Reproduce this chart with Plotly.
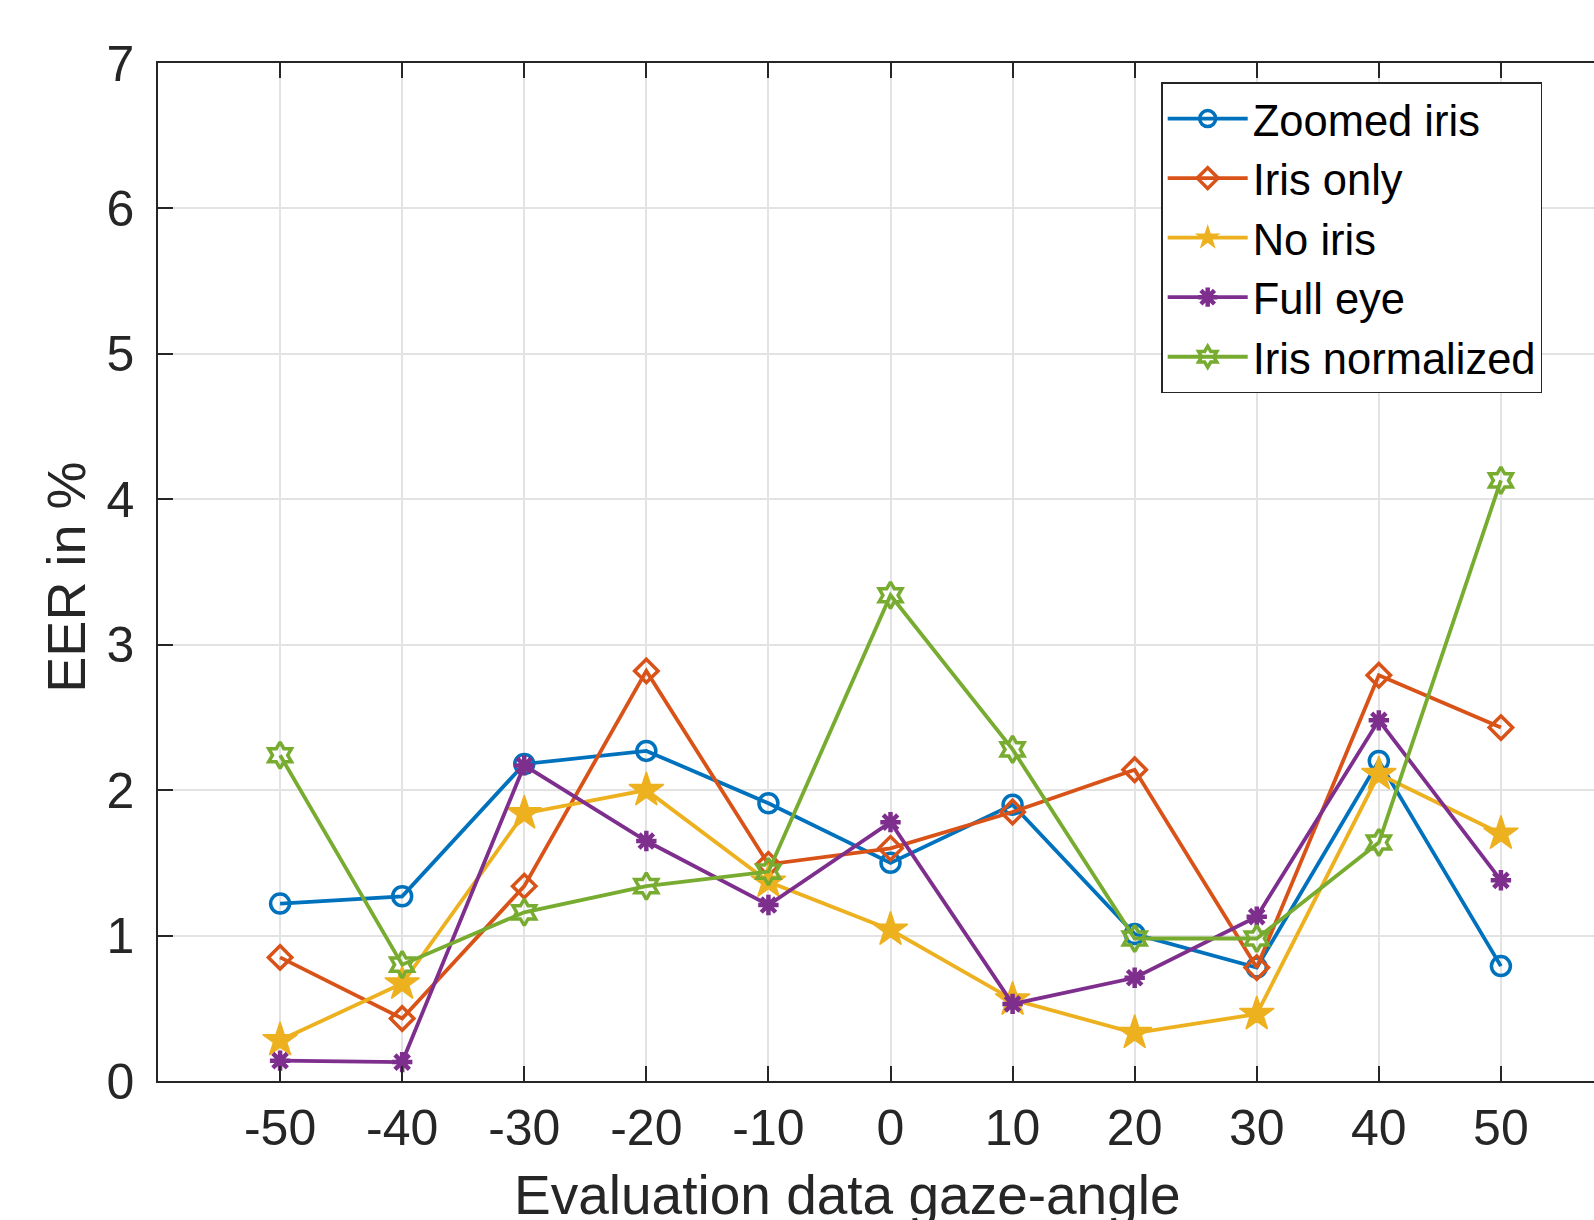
import plotly.graph_objects as go

angles = [-50, -40, -30, -20, -10, 0, 10, 20, 30, 40, 50]
tick_labels = ["-50", "-40", "-30", "-20", "-10", "0", "10", "20", "30", "40", "50"]
y_ticks = [0, 1, 2, 3, 4, 5, 6, 7]

zoomed_iris = [1.22, 1.27, 2.18, 2.27, 1.91, 1.50, 1.90, 1.01, 0.78, 2.20, 0.79]
iris_only = [0.85, 0.43, 1.34, 2.82, 1.49, 1.60, 1.85, 2.14, 0.78, 2.79, 2.43]
no_iris = [0.28, 0.67, 1.84, 2.00, 1.37, 1.04, 0.56, 0.33, 0.46, 2.11, 1.70]
full_eye = [0.14, 0.13, 2.17, 1.65, 1.21, 1.78, 0.53, 0.71, 1.13, 2.48, 1.38]
iris_normalized = [2.24, 0.80, 1.16, 1.34, 1.44, 3.34, 2.28, 0.98, 0.98, 1.64, 4.13]

series = [
    ("Zoomed iris", zoomed_iris, "#0072BD", "circle-open", 19, 3.5),
    ("Iris only", iris_only, "#D95319", "diamond-open", 18, 3.5),
    ("No iris", no_iris, "#EDB120", "star", 26, 1.5),
    ("Full eye", full_eye, "#7E2F8E", "asterisk-open", 17, 4.5),
    ("Iris normalized", iris_normalized, "#77AC30", "hexagram-open", 20, 3.5),
]

FONT = "Liberation Sans, Arial, Helvetica, sans-serif"
AX = "#262626"

fig = go.Figure()
for name, vals, col, sym, sz, mlw in series:
    fig.add_trace(go.Scatter(
        x=angles, y=vals, name=name, mode="lines+markers",
        line=dict(color=col, width=3.8),
        marker=dict(symbol=sym, size=sz, color=col, line=dict(color=col, width=mlw)),
    ))

W, H = 1700, 1300
L, T = 157.6, 62.5
R_edge, B_edge = 1622.6, 1081.0
PW, PH = R_edge - L, B_edge - T

def px_x(v):
    return (v - L) / PW

def px_y(v):
    return (B_edge - v) / PH

fig.update_layout(
    width=W, height=H,
    margin=dict(l=L, r=W - R_edge, t=T, b=H - B_edge, pad=0),
    plot_bgcolor="white", paper_bgcolor="white",
    font=dict(family=FONT, color=AX, size=50),
    showlegend=True,
    legend=dict(
        x=px_x(1161), y=px_y(82),
        xanchor="left", yanchor="top",
        bgcolor="white", bordercolor=AX, borderwidth=1.3,
        font=dict(family=FONT, size=43.5, color="black"),
        itemwidth=80, tracegroupgap=0,
    ),
    annotations=[
        dict(text="Evaluation data gaze-angle", xref="paper", yref="paper",
             x=px_x(847), y=px_y(1195.5), xanchor="center", yanchor="middle",
             showarrow=False, font=dict(family=FONT, size=55, color=AX)),
        dict(text="EER in %", xref="paper", yref="paper", textangle=-90,
             x=px_x(66), y=px_y(577), xanchor="center", yanchor="middle",
             showarrow=False, font=dict(family=FONT, size=54, color=AX)),
    ],
)
fig.update_xaxes(
    range=[-60, 60], tickvals=angles, ticktext=tick_labels,
    showgrid=True, gridcolor="#e3e3e3", gridwidth=1.8,
    showline=True, linecolor=AX, linewidth=1.5, mirror="ticks",
    ticks="inside", ticklen=15, tickwidth=1.5, tickcolor=AX,
    tickfont=dict(family=FONT, size=50, color=AX),
    zeroline=False, ticklabelstandoff=2,
)
fig.update_yaxes(
    range=[0, 7], tickvals=y_ticks, ticktext=[str(v) for v in y_ticks],
    showgrid=True, gridcolor="#e3e3e3", gridwidth=1.8,
    showline=True, linecolor=AX, linewidth=1.5, mirror="ticks",
    ticks="inside", ticklen=15, tickwidth=1.5, tickcolor=AX,
    tickfont=dict(family=FONT, size=50, color=AX),
    zeroline=False, ticklabelstandoff=12,
)

fig.write_html(
    "out.html",
    config={"displayModeBar": False},
    post_script="document.body.style.margin='0';document.body.style.overflow='hidden';document.documentElement.style.overflow='hidden';",
)
